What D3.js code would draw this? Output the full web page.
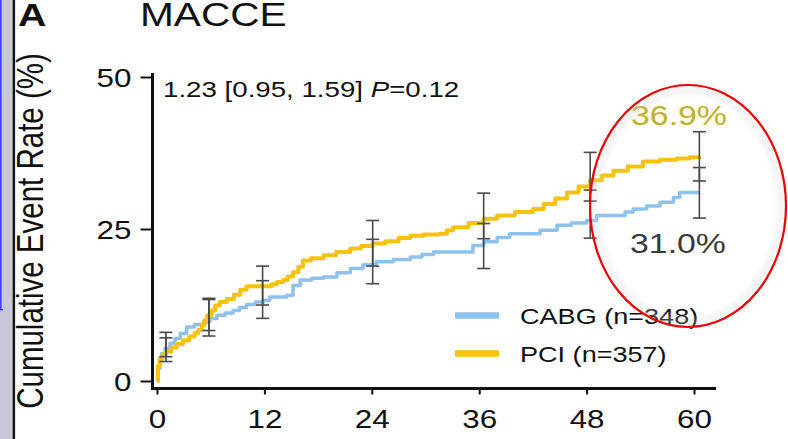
<!DOCTYPE html>
<html>
<head>
<meta charset="utf-8">
<script src="https://cdn.jsdelivr.net/npm/d3@7"></script>
<style>
  html, body { margin: 0; padding: 0; background: #fff; }
  svg { display: block; }
  text { font-family: "Liberation Sans", Arial, Helvetica, sans-serif; }
</style>
</head>
<body>
<svg id="chart" width="788" height="439"></svg>
<script>
// Kaplan–Meier cumulative event rates (%) by follow-up month
const cabgMonths = [0, 0.1, 0.3, 0.5, 0.9, 1.45, 2.0, 2.6, 3.3, 4.2, 5.2, 5.9, 6.7, 7.6, 8.5, 9.2, 10.0, 11.0, 11.9, 12.6, 14.5, 15.2, 16.0, 17.3, 18.6, 20.1, 21.6, 23.0, 24.5, 26.4, 28.3, 29.6, 30.9, 34.2, 35.3, 36.5, 38.0, 39.4, 42.8, 44.7, 46.3, 48.0, 49.1, 51.4, 52.3, 53.2, 54.7, 56.2, 57.7, 58.4, 60.6];
const cabgRate   = [0, 2.0, 3.8, 4.5, 5.4, 6.2, 7.0, 7.8, 8.9, 9.3, 9.7, 10.3, 10.8, 11.2, 11.6, 12.1, 12.6, 13.0, 13.3, 13.8, 14.1, 15.7, 16.6, 16.9, 17.1, 17.8, 18.5, 19.1, 19.6, 20.0, 20.4, 20.8, 21.2, 21.2, 22.3, 22.9, 23.6, 24.2, 24.8, 25.6, 26.0, 26.4, 27.2, 27.2, 27.8, 28.3, 28.8, 29.4, 30.2, 31.0, 31.0];

const pciMonths = [0, 0.1, 0.3, 0.6, 1.0, 1.6, 2.2, 2.9, 3.6, 4.2, 4.6, 5.0, 5.3, 5.6, 6.1, 6.5, 7.0, 7.8, 8.6, 9.3, 10.0, 12.2, 12.8, 13.4, 14.1, 14.6, 15.2, 15.8, 16.3, 17.2, 18.6, 20.0, 21.6, 22.8, 24.1, 25.5, 27.0, 28.3, 29.8, 31.6, 32.4, 33.1, 34.8, 36.5, 38.0, 40.0, 42.0, 43.2, 44.5, 45.8, 47.1, 48.4, 49.7, 51.0, 52.6, 54.3, 56.2, 58.1, 59.5, 60.6];
const pciRate   = [0, 2.5, 3.6, 4.3, 4.8, 5.5, 6.1, 6.7, 7.3, 7.9, 8.4, 9.2, 10.0, 10.8, 11.6, 12.4, 13.0, 13.5, 14.2, 15.0, 15.6, 15.6, 15.9, 16.3, 16.6, 17.2, 17.9, 18.8, 19.8, 20.2, 20.7, 21.2, 21.8, 22.2, 22.6, 23.0, 23.5, 23.9, 24.1, 24.2, 24.8, 25.3, 26.0, 26.7, 27.2, 27.8, 28.3, 29.1, 30.0, 31.0, 32.0, 33.0, 33.8, 34.6, 35.3, 36.1, 36.4, 36.6, 36.8, 36.9];

// 95% confidence intervals at landmark months
const barMonths = [1.0, 5.8, 11.8, 24.1, 36.5, 48.4, 60.6];
const cabgLo = [4.0, 7.4, 10.3, 16.0, 18.5, 23.5, 26.8];
const cabgHi = [8.0, 13.4, 16.5, 23.3, 25.9, 31.4, 35.1];
const pciLo  = [3.2, 8.3, 12.5, 18.9, 23.4, 29.6, 32.9];
const pciHi  = [7.1, 13.6, 18.9, 26.4, 30.9, 37.6, 41.0];

const xTicks = [0, 12, 24, 36, 48, 60];
const yTicks = [0, 25, 50];

const seriesNames = ["CABG (n=348)", "PCI (n=357)"];
const finalLabels = ["31.0%", "36.9%"];
const annotation = ["1.23 [0.95, 1.59] ", "P", "=0.12"];

const COL_CABG = "#8ec2ec";
const COL_PCI = "#f4c20f";
const SX = 1.23; // horizontal text stretch

const svg = d3.select("#chart");
const defs = svg.append("defs");

// left frame strip
svg.append("rect").attr("x", 0).attr("y", 0).attr("width", 13).attr("height", 439).attr("fill", "#c7c7d6");
svg.append("rect").attr("x", 0).attr("y", 0).attr("width", 1.6).attr("height", 310).attr("fill", "#3f3ff2");
svg.append("rect").attr("x", 0).attr("y", 309).attr("width", 3).attr("height", 1.4).attr("fill", "#3f3ff2");
svg.append("rect").attr("x", 12.7).attr("y", 0).attr("width", 2.4).attr("height", 439).attr("fill", "#111");

const x = d3.scaleLinear().domain([0, 60]).range([157, 694]);
const y = d3.scaleLinear().domain([0, 50]).range([381, 77]);

function stretchedText(sel, px, py, str, size, opts = {}) {
  return sel.append("text")
    .attr("transform", `translate(${px},${py}) scale(${SX},1)` + (opts.rotate ? ` rotate(${opts.rotate})` : ""))
    .attr("font-size", size)
    .attr("fill", opts.fill || "#111")
    .attr("text-anchor", opts.anchor || "start")
    .attr("font-weight", opts.weight || "normal")
    .text(str);
}

// titles
stretchedText(svg, 18, 26, "A", 32, { weight: "bold" });
stretchedText(svg, 140, 26, "MACCE", 33);

// y-axis title
stretchedText(svg, 43, 231, "Cumulative Event Rate (%)", 29.5, { anchor: "middle", rotate: -90 });

// axes
const axisCol = "#111";
const yAxis = svg.append("g").attr("transform", "translate(152.5,0)")
  .call(d3.axisLeft(y).tickValues(yTicks).tickSize(12).tickPadding(9));
yAxis.select(".domain").remove();
yAxis.selectAll(".tick line").attr("stroke", axisCol).attr("stroke-width", 2);
yAxis.selectAll(".tick text")
  .attr("font-size", 25.5).attr("fill", "#111")
  .attr("font-family", "Liberation Sans, Arial, sans-serif")
  .attr("x", -21 / SX).attr("dy", "0.36em")
  .attr("transform", `scale(${SX},1)`);

const xAxis = svg.append("g").attr("transform", "translate(0,388.5)")
  .call(d3.axisBottom(x).tickValues(xTicks).tickSize(6));
xAxis.select(".domain").remove();
xAxis.selectAll(".tick line").attr("stroke", axisCol).attr("stroke-width", 2);
xAxis.selectAll(".tick text")
  .attr("font-size", 25.5).attr("fill", "#111")
  .attr("font-family", "Liberation Sans, Arial, sans-serif")
  .attr("x", 0).attr("y", 39.5).attr("dy", 0)
  .attr("transform", `scale(${SX},1)`);

// axis lines (offset frame)
svg.append("line").attr("x1", 152.5).attr("x2", 152.5).attr("y1", 73).attr("y2", 389.5)
  .attr("stroke", axisCol).attr("stroke-width", 3);
svg.append("line").attr("x1", 151).attr("x2", 716).attr("y1", 388.5).attr("y2", 388.5)
  .attr("stroke", axisCol).attr("stroke-width", 3);

// KM curves
const line = d3.line().x(d => x(d[0])).y(d => y(d[1])).curve(d3.curveStepAfter);
const cabgPts = cabgMonths.map((m, i) => [m, cabgRate[i]]);
const pciPts = pciMonths.map((m, i) => [m, pciRate[i]]);

svg.append("path").datum(cabgPts).attr("d", line)
  .attr("fill", "none").attr("stroke", COL_CABG).attr("stroke-width", 3.5).attr("stroke-linejoin", "round");
svg.append("path").datum(pciPts).attr("d", line)
  .attr("fill", "none").attr("stroke", COL_PCI).attr("stroke-width", 4).attr("stroke-linejoin", "round");

// confidence bars
function drawBars(lo, hi) {
  const g = svg.append("g").attr("stroke", "#4a4a4a").attr("stroke-width", 1.6).attr("fill", "none");
  barMonths.forEach((m, i) => {
    const bx = x(m);
    g.append("line").attr("x1", bx).attr("x2", bx).attr("y1", y(lo[i])).attr("y2", y(hi[i]));
    g.append("line").attr("x1", bx - 6.5).attr("x2", bx + 6.5).attr("y1", y(lo[i])).attr("y2", y(lo[i]));
    g.append("line").attr("x1", bx - 6.5).attr("x2", bx + 6.5).attr("y1", y(hi[i])).attr("y2", y(hi[i]));
  });
}
drawBars(cabgLo, cabgHi);
drawBars(pciLo, pciHi);

// hazard ratio annotation
const ann = svg.append("text")
  .attr("transform", `translate(163,96.5) scale(${SX},1)`)
  .attr("font-size", 22.5).attr("fill", "#111");
ann.append("tspan").text(annotation[0]);
ann.append("tspan").attr("font-style", "italic").text(annotation[1]);
ann.append("tspan").text(annotation[2]);

// legend
const legend = svg.append("g");
[COL_CABG, COL_PCI].forEach((c, i) => {
  const ly = 315.5 + i * 38;
  legend.append("line").attr("x1", 455).attr("x2", 499).attr("y1", ly).attr("y2", ly)
    .attr("stroke", c).attr("stroke-width", 6.5);
  stretchedText(legend, 520, ly + 8, seriesNames[i], 22);
});

// final-rate labels
const glow = defs.append("filter").attr("id", "glow")
  .attr("x", "-20%").attr("y", "-30%").attr("width", "140%").attr("height", "160%");
glow.append("feGaussianBlur").attr("stdDeviation", 2.5);

const pctG = svg.append("g");
stretchedText(pctG, 679, 125, finalLabels[1], 27.5, { anchor: "middle", fill: "#fff3a0" })
  .attr("filter", "url(#glow)").attr("opacity", 0.8);
stretchedText(pctG, 679, 125, finalLabels[1], 27.5, { anchor: "middle", fill: "#bdb238" });
stretchedText(pctG, 678, 253, finalLabels[0], 27.5, { anchor: "middle", fill: "#3a3a3a" });

// highlight ellipse
const shade = defs.append("filter").attr("id", "soft")
  .attr("x", "-20%").attr("y", "-20%").attr("width", "140%").attr("height", "140%");
shade.append("feGaussianBlur").attr("stdDeviation", 3);
svg.append("ellipse").attr("cx", 688).attr("cy", 206).attr("rx", 93).attr("ry", 116)
  .attr("fill", "none").attr("stroke", "#d6d6d6").attr("stroke-width", 5)
  .attr("opacity", 0.45).attr("filter", "url(#soft)");
svg.append("ellipse").attr("cx", 688).attr("cy", 206).attr("rx", 98).attr("ry", 121)
  .attr("fill", "none").attr("stroke", "#ee0000").attr("stroke-width", 2.2);
</script>
</body>
</html>
